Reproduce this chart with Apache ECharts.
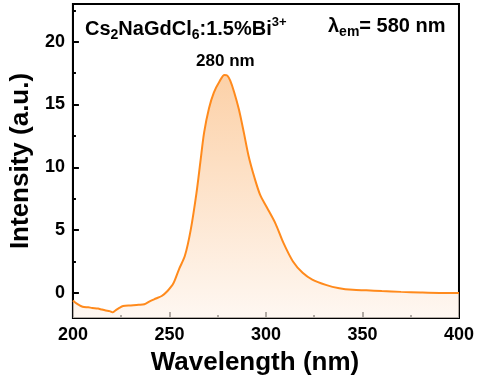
<!DOCTYPE html>
<html>
<head>
<meta charset="utf-8">
<script src="https://cdn.jsdelivr.net/npm/echarts@6/dist/echarts.min.js"></script>
<style>
html,body{margin:0;padding:0;background:#fff;}
#c{width:477px;height:385px;}
</style>
</head>
<body>
<div id="c"></div>
<script>
// Wavelength (nm)
const wavelength = [200,202,205,208,210,213,215,217,219,220.5,222,224,226,230,234,237,240,243,246,249,252,255,258,261,264,266,268,270.5,273,276,278.5,280,281.5,283.5,286,288.5,291,294,297,300.5,305,309,314,319,324,331,338,345,352,360,370,380,390,400];
// Intensity (a.u.)
const intensity = [-0.6,-0.85,-1.1,-1.15,-1.2,-1.25,-1.33,-1.4,-1.45,-1.55,-1.4,-1.2,-1.05,-1.0,-0.95,-0.9,-0.65,-0.45,-0.25,0.15,0.74,1.9,2.95,5.0,7.95,10.4,12.8,14.7,15.95,16.85,17.35,17.3,16.9,16.0,14.6,12.8,10.9,9.2,7.8,6.8,5.5,4.0,2.5,1.6,1.06,0.64,0.37,0.24,0.2,0.14,0.08,0.03,0.0,0.0];
const yMajorTicks = [0,5,10,15,20];
const yMinorTicks = [2.5,7.5,12.5,17.5,22.5];
const peakLabel = {wavelength: 279, intensity: 17.4, text: '280 nm'};

const font = '"Liberation Sans", Arial, sans-serif';
const chart = echarts.init(document.getElementById('c'));
chart.setOption({
  backgroundColor: '#fff',
  animation: false,
  grid: {left: 70, right: 16, top: 4, bottom: 67, show: true, borderColor: '#000', borderWidth: 2, backgroundColor: 'transparent'},
  xAxis: {
    type: 'value', min: 200, max: 400, interval: 50,
    name: 'Wavelength (nm)', nameLocation: 'middle', nameGap: 32,
    nameTextStyle: {fontFamily: font, fontWeight: 'bold', fontSize: 26, color: '#000', padding: [0, 22, 0, 0]},
    axisLine: {show: true, onZero: false, lineStyle: {color: '#000', width: 2}},
    axisTick: {show: true, inside: true, length: 6, lineStyle: {color: '#000', width: 2}},
    minorTick: {show: true, splitNumber: 2, length: 3, lineStyle: {color: '#000', width: 2}},
    axisLabel: {fontFamily: font, fontWeight: 'bold', fontSize: 18, color: '#000', margin: 8},
    splitLine: {show: false}
  },
  yAxis: [{
    type: 'value', min: -2, max: 23,
    name: 'Intensity (a.u.)', nameLocation: 'middle', nameGap: 34,
    nameTextStyle: {fontFamily: font, fontWeight: 'bold', fontSize: 26, color: '#000'},
    axisLine: {show: true, onZero: false, lineStyle: {color: '#000', width: 2}},
    axisTick: {show: true, inside: true, length: 6, customValues: yMajorTicks, lineStyle: {color: '#000', width: 2}},
    axisLabel: {customValues: yMajorTicks, fontFamily: font, fontWeight: 'bold', fontSize: 18, color: '#000', margin: 8},
    splitLine: {show: false}
  }, {
    type: 'value', min: -2, max: 23, position: 'left', offset: 0,
    axisLine: {show: false, onZero: false},
    axisTick: {show: true, inside: true, length: 3, customValues: yMinorTicks, lineStyle: {color: '#000', width: 2}},
    axisLabel: {show: false, customValues: yMinorTicks},
    splitLine: {show: false}
  }],
  series: [{
    type: 'line',
    data: wavelength.map((w, i) => [w, intensity[i]]),
    showSymbol: false,
    smooth: 0.3,
    lineStyle: {color: '#ff8a1c', width: 2},
    areaStyle: {
      origin: 'start',
      color: new echarts.graphic.LinearGradient(0, 0, 0, 1, [
        {offset: 0, color: '#fbbd82'},
        {offset: 1, color: '#fef4ec'}
      ])
    },
    markPoint: {
      symbol: 'circle', symbolSize: 0,
      data: [{coord: [peakLabel.wavelength, peakLabel.intensity], value: peakLabel.text}],
      label: {show: true, position: 'top', distance: 5, formatter: peakLabel.text, fontFamily: font, fontWeight: 'bold', fontSize: 17, color: '#000'}
    }
  }],
  graphic: [{
    type: 'text', left: 85, top: 16,
    style: {
      text: '{a|Cs}{s|2}{a|NaGdCl}{s|6}{a|:1.5%Bi}{p|3+}',
      rich: {
        a: {fontFamily: font, fontWeight: 'bold', fontSize: 20, color: '#000', lineHeight: 26},
        s: {fontFamily: font, fontWeight: 'bold', fontSize: 14, color: '#000', lineHeight: 15, verticalAlign: 'bottom'},
        p: {fontFamily: font, fontWeight: 'bold', fontSize: 13, color: '#000', lineHeight: 15, verticalAlign: 'top'}
      }
    }
  }, {
    type: 'text', left: 328, top: 16,
    style: {
      text: '{a|λ}{s|em}{a|= 580 nm}',
      rich: {
        a: {fontFamily: font, fontWeight: 'bold', fontSize: 20, color: '#000', lineHeight: 26},
        s: {fontFamily: font, fontWeight: 'bold', fontSize: 14, color: '#000', lineHeight: 15, verticalAlign: 'bottom'}
      }
    }
  }]
});
</script>
</body>
</html>
